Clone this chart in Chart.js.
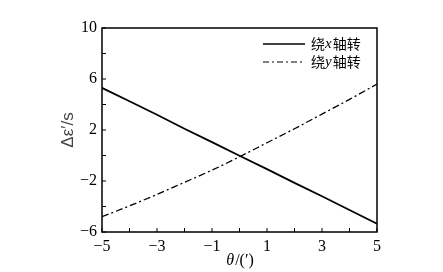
<!DOCTYPE html>
<html>
<head>
<meta charset="utf-8">
<script src="https://cdn.jsdelivr.net/npm/chart.js@4"></script>
<style>
  html, body { margin: 0; padding: 0; background: #fff; }
  #wrap { width: 443px; height: 272px; }
</style>
</head>
<body>
<div id="wrap"><canvas id="chart" width="443" height="272"></canvas></div>
<script>
// theta (arc minutes)
const thetaValues = [-5, -4, -3, -2, -1, 0, 1, 2, 3, 4, 5];
// rotation about x axis
const aroundX = [5.3, 4.25, 3.2, 2.1, 1.05, -0.02, -1.07, -2.15, -3.2, -4.27, -5.35];
// rotation about y axis
const aroundY = [-4.8, -3.95, -3.05, -2.1, -1.15, -0.1, 1.0, 2.1, 3.25, 4.4, 5.6];

const seriesNames = ["绕x轴转", "绕y轴转"];
const xTickLabels = [-5, -3, -1, 1, 3, 5];
const yTickLabels = [10, 6, 2, -2, -6];

const serif = "'Liberation Serif', 'Times New Roman', serif";
const cjk = "'Noto Sans CJK SC', sans-serif";

function fmt(v) {
  return v < 0 ? "\u2212" + Math.abs(v) : String(v);
}

// frame, inward ticks, legend and x title
const decor = {
  id: "decor",
  afterDatasetsDraw(chart) {
    const { ctx, chartArea: a, scales } = chart;
    ctx.save();
    ctx.strokeStyle = "#000";
    ctx.lineWidth = 1.5;
    ctx.strokeRect(a.left, a.top, a.right - a.left, a.bottom - a.top);

    ctx.lineWidth = 1;
    ctx.beginPath();
    for (let v = -5; v <= 5; v++) {
      const px = scales.x.getPixelForValue(v);
      ctx.moveTo(px, a.bottom);
      ctx.lineTo(px, a.bottom - 4);
    }
    for (let v = -6; v <= 10; v += 2) {
      const py = scales.y.getPixelForValue(v);
      ctx.moveTo(a.left, py);
      ctx.lineTo(a.left + 4, py);
    }
    ctx.stroke();

    // legend
    const rows = [
      { y: 44, dash: [], name: seriesNames[0] },
      { y: 62, dash: [6, 3, 2, 3], name: seriesNames[1] }
    ];
    rows.forEach(r => {
      ctx.beginPath();
      ctx.setLineDash(r.dash);
      ctx.lineWidth = r.dash.length ? 1.2 : 1.6;
      ctx.moveTo(263, r.y);
      ctx.lineTo(305, r.y);
      ctx.stroke();
      ctx.setLineDash([]);

      ctx.fillStyle = "#000";
      ctx.textBaseline = "middle";
      ctx.textAlign = "left";
      let x = 311;
      const parts = [
        { t: r.name[0], f: "14px " + cjk },
        { t: r.name[1], f: "italic 15px " + serif },
        { t: r.name.slice(2), f: "14px " + cjk }
      ];
      parts.forEach(p => {
        ctx.font = p.f;
        ctx.fillText(p.t, x, r.y);
        x += ctx.measureText(p.t).width + (p.f.includes("italic") ? 1 : 0);
      });
    });

    // x title
    const cx = (a.left + a.right) / 2;
    const ty = 261;
    ctx.font = "italic 16px " + serif;
    const w1 = ctx.measureText("θ").width;
    ctx.font = "16px " + serif;
    const w2 = ctx.measureText("/(′)").width;
    let x0 = cx - (w1 + w2) / 2;
    ctx.font = "italic 16px " + serif;
    ctx.fillText("θ", x0, ty);
    ctx.font = "16px " + serif;
    ctx.fillText("/(′)", x0 + w1 + 1, ty);
    ctx.restore();
  }
};

new Chart(document.getElementById("chart"), {
  type: "line",
  data: {
    datasets: [
      {
        label: seriesNames[0],
        data: thetaValues.map((t, i) => ({ x: t, y: aroundX[i] })),
        borderColor: "#000",
        borderWidth: 1.8,
        pointRadius: 0,
        tension: 0
      },
      {
        label: seriesNames[1],
        data: thetaValues.map((t, i) => ({ x: t, y: aroundY[i] })),
        borderColor: "#000",
        borderWidth: 1.3,
        borderDash: [7, 3, 2, 3],
        pointRadius: 0,
        cubicInterpolationMode: "monotone"
      }
    ]
  },
  options: {
    responsive: false,
    animation: false,
    layout: { padding: { left: 0, right: 66, top: 28, bottom: 0 } },
    plugins: { legend: { display: false }, tooltip: { enabled: false } },
    scales: {
      x: {
        type: "linear",
        min: -5,
        max: 5,
        grid: { display: false, drawTicks: false },
        border: { display: false },
        ticks: {
          stepSize: 1,
          padding: 5,
          color: "#000",
          font: { family: serif, size: 16 },
          callback: v => xTickLabels.includes(v) ? fmt(v) : ""
        },
        afterFit: s => { s.height = 40; }
      },
      y: {
        min: -6,
        max: 10,
        grid: { display: false, drawTicks: false },
        border: { display: false },
        ticks: {
          stepSize: 2,
          padding: 5,
          color: "#000",
          font: { family: serif, size: 16 },
          callback: v => yTickLabels.includes(v) ? fmt(v) : ""
        },
        title: {
          display: true,
          text: "Δε′/s",
          color: "#444",
          font: { family: "'Liberation Sans', Arial, sans-serif", size: 17 },
          padding: { top: 58, bottom: 0 }
        },
        afterFit: s => { s.width = 102; }
      }
    }
  },
  plugins: [decor]
});
</script>
</body>
</html>
